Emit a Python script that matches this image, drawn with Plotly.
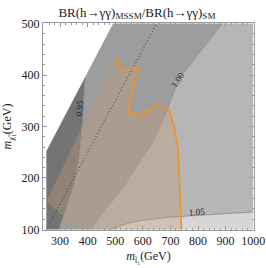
import plotly.graph_objects as go

# ---- data (GeV) ----
x_min, x_max = 250, 1000
y_min, y_max = 100, 500

# kinematic edge (m_chi ~ m_stop), white above it
edge_x = [250, 492]
edge_y = [252, 500]

# contour lines of BR ratio
c095_x = [390, 378, 369, 351, 320, 294]
c095_y = [395, 292, 241, 190, 138, 100]
c100_x = [888, 727, 691, 640, 529, 409]
c100_y = [500, 389, 335, 273, 182, 100]
c105_x = [482, 540, 590, 700, 850, 1000]
c105_y = [100, 111, 117, 124, 129, 134]

# orange exclusion line and tan region
orange_x = [502, 526, 582, 546, 587, 656, 696, 716, 728, 732, 737, 740]
orange_y = [434, 410, 416, 328, 321, 342, 333, 292, 254, 209, 163, 100]
tan_start = (250, 155)
tan_low = (368, 100)

# dotted line (m_stop = m_chi + 150)
dot_x = [250, 650]
dot_y = [100, 500]

labels = ["0.95", "1.00", "1.05"]
label_x = [372, 727, 796]
label_y = [335, 390, 134]
label_angle = [-86, -58, -5]

col_dark = "#747474"
col_mid = "#9d9d9d"
col_light = "#b6b6b6"
col_lightest = "#d6d6d6"

fig = go.Figure()

def poly(xs, ys, color):
    fig.add_trace(go.Scatter(x=xs, y=ys, mode="lines", fill="toself",
                             fillcolor=color, line=dict(width=0, color=color),
                             hoverinfo="skip", showlegend=False))

# < 0.95
poly([x_min, edge_x[0]] + c095_x, [y_min, edge_y[0]] + c095_y, col_dark)
# 0.95 - 1.00
poly(c095_x[:1] + [edge_x[1]] + c100_x + c095_x[::-1],
     c095_y[:1] + [edge_y[1]] + c100_y + c095_y[::-1], col_mid)
# 1.00 - 1.05
poly(c100_x + c105_x + [x_max, x_max],
     c100_y + c105_y + [y_max, y_max], col_light)
# > 1.05
poly(c105_x + [x_max], c105_y + [y_min], col_lightest)

# contour lines
for cx, cy, cc in [(c095_x, c095_y, "#6a6a6a"), (c100_x, c100_y, "#7a7a7a"),
                   (c105_x, c105_y, "#666666")]:
    fig.add_trace(go.Scatter(x=cx, y=cy, mode="lines",
                             line=dict(color=cc, width=0.6),
                             hoverinfo="skip", showlegend=False))

# tan region
fig.add_trace(go.Scatter(x=[tan_start[0]] + orange_x + [tan_low[0], tan_start[0]],
                         y=[tan_start[1]] + orange_y + [tan_low[1], tan_start[1]],
                         mode="lines", fill="toself",
                         fillcolor="rgba(195,158,120,0.36)", line=dict(width=0),
                         hoverinfo="skip", showlegend=False))

# dotted line
fig.add_trace(go.Scatter(x=dot_x, y=dot_y, mode="lines",
                         line=dict(color="#3a3a3a", width=1, dash="1px,2.5px"),
                         hoverinfo="skip", showlegend=False))

# orange line
fig.add_trace(go.Scatter(x=orange_x, y=orange_y, mode="lines",
                         line=dict(color="#f7901e", width=1.6),
                         hoverinfo="skip", showlegend=False))

for t, lx, ly, ang in zip(labels, label_x, label_y, label_angle):
    fig.add_annotation(x=lx, y=ly, text=t, showarrow=False, textangle=ang,
                       font=dict(family="Liberation Serif", size=9, color="#222"))

axis_common = dict(showgrid=False, zeroline=False, showline=True, automargin=False,
                   linecolor="#9a9a9a", linewidth=1, mirror="allticks",
                   ticks="inside", ticklen=4, tickcolor="#9a9a9a",
                   tickfont=dict(family="Liberation Serif", size=12, color="#222"))

fig.update_layout(
    template="none",
    width=266, height=268,
    margin=dict(l=43, r=12, t=23, b=38),
    paper_bgcolor="white", plot_bgcolor="white",
    title=dict(text="BR(h→γγ)<sub>MSSM</sub>/BR(h→γγ)<sub>SM</sub>",
               x=0.515, xanchor="center", y=0.955, yanchor="middle", automargin=False,
               font=dict(family="Liberation Serif", size=13, color="#222")),
    xaxis=dict(range=[238, 1003], tickmode="linear", tick0=300, dtick=100,
               minor=dict(ticks="inside", ticklen=2, dtick=20, tick0=0, tickcolor="#9a9a9a"),
               title=dict(text="<i>m</i><sub>t̃₁</sub>(GeV)", standoff=4,
                          font=dict(family="Liberation Serif", size=12, color="#222")),
               **axis_common),
    yaxis=dict(range=[99, 501], tickmode="linear", tick0=100, dtick=100,
               minor=dict(ticks="inside", ticklen=2, dtick=20, tick0=0, tickcolor="#9a9a9a"),
               title=dict(text="<i>m</i><sub>χ̃₁</sub>(GeV)", standoff=8,
                          font=dict(family="Liberation Serif", size=12, color="#222")),
               **axis_common),
)

fig.write_html("out.html", config={"displayModeBar": False},
               post_script="document.body.style.margin='0';document.body.style.overflow='hidden';")
